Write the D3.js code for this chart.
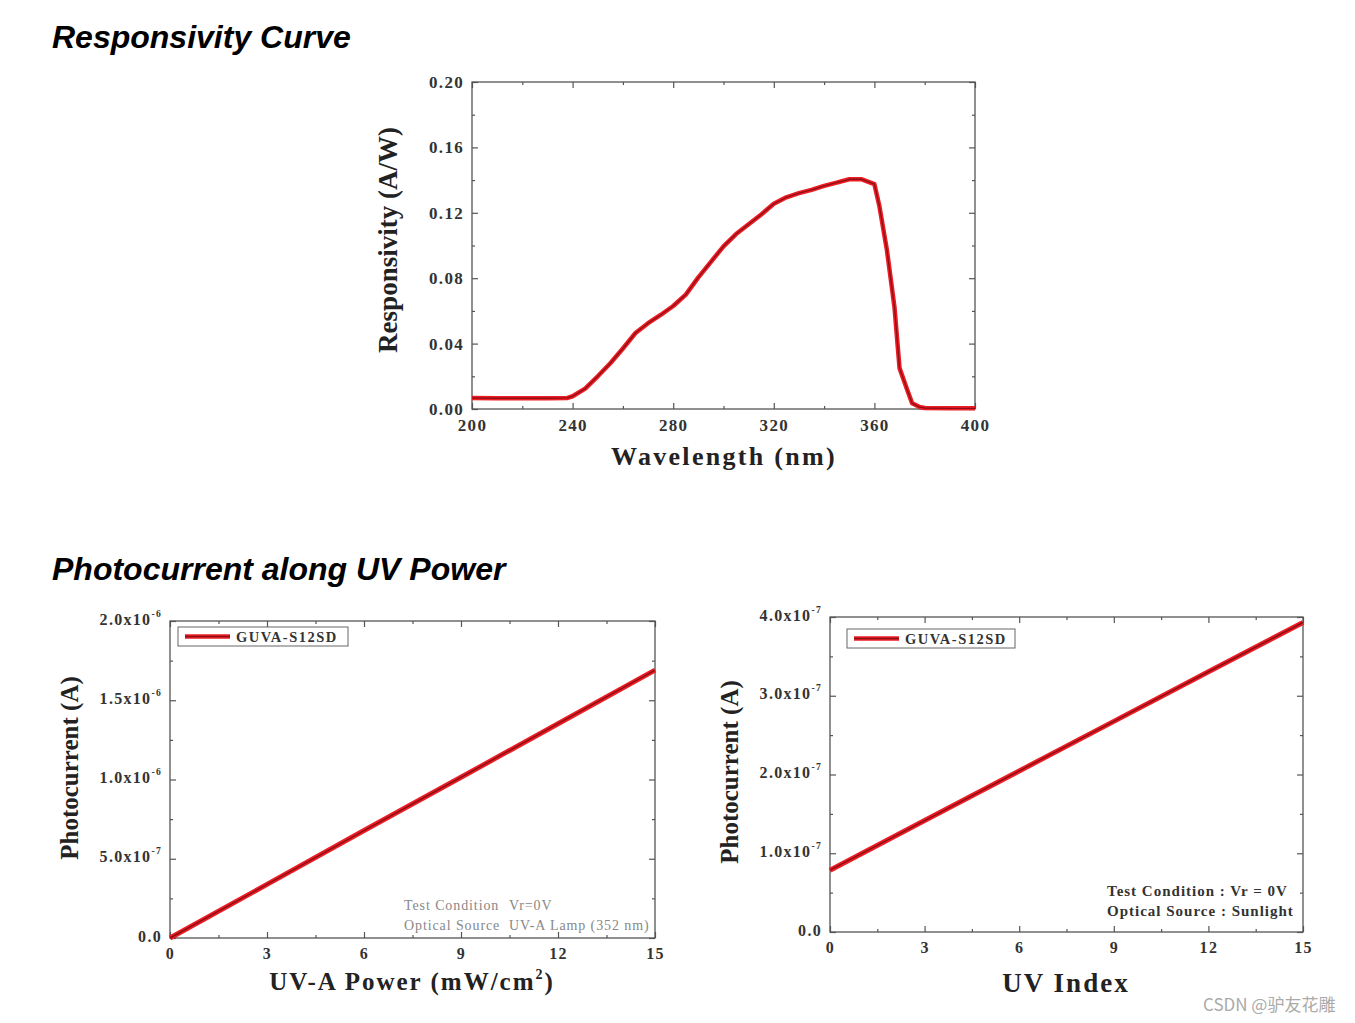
<!DOCTYPE html>
<html><head><meta charset="utf-8">
<script src="https://cdn.jsdelivr.net/npm/d3@7"></script>
<style>body{margin:0;background:#fff;} svg{display:block;}</style>
</head><body>
<svg id="c" width="1355" height="1023"></svg>
<script>
// ---- data ----
const wavelength = [200,210,220,230,238,240,245,250,255,260,265,270,275,280,285,290,295,300,305,310,315,320,325,330,335,340,345,350,355,360,362,365,368,370,373,375,378,380,390,400];
const responsivity = [0.0068,0.0066,0.0066,0.0066,0.0068,0.0078,0.0125,0.020,0.028,0.037,0.0465,0.0525,0.0575,0.063,0.070,0.0805,0.090,0.0995,0.107,0.113,0.119,0.1255,0.1295,0.132,0.134,0.1365,0.1385,0.1405,0.1405,0.1375,0.124,0.097,0.062,0.025,0.012,0.0035,0.0012,0.0006,0.0004,0.0004];
const respYTicks = [0,0.04,0.08,0.12,0.16,0.20];
const respXTicks = [200,240,280,320,360,400];

const uvaPower = [0,3,6,9,12,15];
const uvaCurrent = [0,3.38e-7,6.78e-7,1.014e-6,1.352e-6,1.69e-6];
const uvaYTicks = [0,5e-7,1e-6,1.5e-6,2e-6];
const uvaYLabels = [["0.0",""],["5.0x10","-7"],["1.0x10","-6"],["1.5x10","-6"],["2.0x10","-6"]];

const uvIndex = [0,3,6,9,12,15];
const uvCurrent = [0.785e-7,1.415e-7,2.045e-7,2.675e-7,3.305e-7,3.93e-7];
const uvYTicks = [0,1e-7,2e-7,3e-7,4e-7];
const uvYLabels = [["0.0",""],["1.0x10","-7"],["2.0x10","-7"],["3.0x10","-7"],["4.0x10","-7"]];
const idxXTicks = [0,3,6,9,12,15];

const svg = d3.select("#c");
const serif = "'Liberation Serif','Times New Roman',serif";
const frameColor = "#555";

// section titles
svg.append("text").attr("x",52).attr("y",48).attr("font-family","'Liberation Sans',Arial,sans-serif")
  .attr("font-weight","bold").attr("font-style","italic").attr("font-size",32).attr("fill","#000").text("Responsivity Curve");
svg.append("text").attr("x",52).attr("y",580).attr("font-family","'Liberation Sans',Arial,sans-serif")
  .attr("font-weight","bold").attr("font-style","italic").attr("font-size",32).attr("fill","#000").text("Photocurrent along UV Power");

function panel(o){
  const g = svg.append("g").attr("transform",`translate(${o.left},${o.top})`);
  const w = o.right-o.left, h = o.bottom-o.top;
  const x = d3.scaleLinear().domain(o.xDomain).range([0,w]);
  const y = d3.scaleLinear().domain(o.yDomain).range([h,0]);
  const style = sel => { sel.select(".domain").remove(); sel.selectAll("line").attr("stroke",frameColor).attr("stroke-width",1.2); };
  const txt = s => s.selectAll("text").attr("font-family",serif).attr("font-weight","bold").attr("font-size",o.tickFont)
      .attr("letter-spacing",o.tickLS).attr("fill","#333");
  // major ticks
  g.append("g").attr("transform",`translate(0,${h})`).call(d3.axisBottom(x).tickValues(o.xTicks).tickSize(-6).tickPadding(10).tickFormat(d=>d))
    .call(style).call(txt);
  g.append("g").call(d3.axisTop(x).tickValues(o.xTicks).tickSize(-6).tickFormat("")).call(style);
  const yl = g.append("g").call(d3.axisLeft(y).tickValues(o.yTicks).tickSize(-6).tickPadding(8).tickFormat((d,i)=>o.yFmt(d,i)))
    .call(style).call(txt);
  if(o.yLabels){
    yl.selectAll(".tick text").each(function(d,i){
      const t = d3.select(this); const lab = o.yLabels[i];
      t.text(null);
      t.append("tspan").text(lab[0]);
      if(lab[1]) t.append("tspan").attr("dy",-8).attr("font-size",o.tickFont*0.6).text(lab[1]);
    }).attr("dy","0.2em");
  }
  g.append("g").attr("transform",`translate(${w},0)`).call(d3.axisRight(y).tickValues(o.yTicks).tickSize(-6).tickFormat("")).call(style);
  // minor ticks
  g.append("g").attr("transform",`translate(0,${h})`).call(d3.axisBottom(x).tickValues(o.xMinor).tickSize(-3).tickFormat("")).call(style);
  g.append("g").call(d3.axisTop(x).tickValues(o.xMinor).tickSize(-3).tickFormat("")).call(style);
  g.append("g").call(d3.axisLeft(y).tickValues(o.yMinor).tickSize(-3).tickFormat("")).call(style);
  g.append("g").attr("transform",`translate(${w},0)`).call(d3.axisRight(y).tickValues(o.yMinor).tickSize(-3).tickFormat("")).call(style);
  // frame
  g.append("rect").attr("width",w).attr("height",h).attr("fill","none").attr("stroke",frameColor).attr("stroke-width",1.3);
  // line
  const line = d3.line().x(d=>x(d[0])).y(d=>y(d[1]));
  const pts = o.xs.map((v,i)=>[v,o.ys[i]]);
  const lg = g.append("g");
  lg.append("path").datum(pts).attr("d",line).attr("fill","none").attr("stroke","#ee1c24").attr("stroke-width",o.lw).attr("stroke-linejoin","round");
  lg.append("path").datum(pts).attr("d",line).attr("fill","none").attr("stroke","#8a1015").attr("stroke-width",o.lw*0.3).attr("stroke-linejoin","round");
  return {g,x,y,w,h};
}

// ---- top chart ----
panel({left:472,right:975,top:82,bottom:409,xDomain:[200,400],yDomain:[0,0.2],
  xTicks:respXTicks,xMinor:d3.range(220,400,40),yTicks:respYTicks,yMinor:d3.range(0.02,0.2,0.04),
  yFmt:d=>d.toFixed(2),tickFont:17,tickLS:1.3,xs:wavelength,ys:responsivity,lw:4.5});
svg.append("text").attr("transform","translate(397,240) rotate(-90)").attr("text-anchor","middle")
  .attr("font-family",serif).attr("font-weight","bold").attr("font-size",27).attr("fill","#222").text("Responsivity (A/W)");
svg.append("text").attr("x",724).attr("y",465).attr("text-anchor","middle").attr("letter-spacing",2.3)
  .attr("font-family",serif).attr("font-weight","bold").attr("font-size",26).attr("fill","#222").text("Wavelength (nm)");

// ---- bottom left ----
panel({left:170,right:655,top:621,bottom:938,xDomain:[0,15],yDomain:[0,2e-6],
  xTicks:uvaPower,xMinor:d3.range(1.5,15,3),yTicks:uvaYTicks,yMinor:d3.range(2.5e-7,2e-6,5e-7),
  yFmt:d=>"",yLabels:uvaYLabels,tickFont:16,tickLS:1.3,xs:uvaPower,ys:uvaCurrent,lw:5});
svg.append("text").attr("transform","translate(78,768) rotate(-90)").attr("text-anchor","middle")
  .attr("font-family",serif).attr("font-weight","bold").attr("font-size",25).attr("fill","#222").text("Photocurrent (A)");
{
  const t = svg.append("text").attr("x",412).attr("y",990).attr("text-anchor","middle").attr("letter-spacing",2)
    .attr("font-family",serif).attr("font-weight","bold").attr("font-size",25).attr("fill","#222");
  t.append("tspan").text("UV-A Power (mW/cm");
  t.append("tspan").attr("dy",-11).attr("font-size",14).text("2");
  t.append("tspan").attr("dy",11).text(")");
}
function legend(gx,gy,w){
  const lg = svg.append("g").attr("transform",`translate(${gx},${gy})`);
  lg.append("rect").attr("width",w).attr("height",19).attr("fill","#fff").attr("stroke","#666").attr("stroke-width",1);
  lg.append("line").attr("x1",7).attr("x2",52).attr("y1",9.5).attr("y2",9.5).attr("stroke","#ee1c24").attr("stroke-width",4.5);
  lg.append("line").attr("x1",7).attr("x2",52).attr("y1",9.5).attr("y2",9.5).attr("stroke","#8a1015").attr("stroke-width",1.4);
  lg.append("text").attr("x",58).attr("y",14.5).attr("font-family",serif).attr("font-weight","bold").attr("font-size",14.5)
    .attr("letter-spacing",1.5).attr("fill","#333").text("GUVA-S12SD");
}
legend(178,627,170);
const ann1 = svg.append("g").attr("font-family",serif).attr("font-size",14).attr("letter-spacing",0.9).attr("fill","#888");
ann1.append("text").attr("x",404).attr("y",910).text("Test Condition");
ann1.append("text").attr("x",509).attr("y",910).text("Vr=0V");
ann1.append("text").attr("x",404).attr("y",930).text("Optical Source");
ann1.append("text").attr("x",509).attr("y",930).text("UV-A Lamp (352 nm)");

// ---- bottom right ----
panel({left:830,right:1303,top:617,bottom:932,xDomain:[0,15],yDomain:[0,4e-7],
  xTicks:idxXTicks,xMinor:d3.range(1.5,15,3),yTicks:uvYTicks,yMinor:d3.range(0.5e-7,4e-7,1e-7),
  yFmt:d=>"",yLabels:uvYLabels,tickFont:16,tickLS:1.3,xs:uvIndex,ys:uvCurrent,lw:5});
svg.append("text").attr("transform","translate(738,772) rotate(-90)").attr("text-anchor","middle")
  .attr("font-family",serif).attr("font-weight","bold").attr("font-size",25).attr("fill","#222").text("Photocurrent (A)");
svg.append("text").attr("x",1066).attr("y",992).attr("text-anchor","middle").attr("letter-spacing",2)
  .attr("font-family",serif).attr("font-weight","bold").attr("font-size",27).attr("fill","#222").text("UV Index");
legend(847,629,168);
const ann2 = svg.append("g").attr("font-family",serif).attr("font-size",15).attr("letter-spacing",1).attr("font-weight","bold").attr("fill","#333");
ann2.append("text").attr("x",1107).attr("y",896).text("Test Condition : Vr = 0V");
ann2.append("text").attr("x",1107).attr("y",916).text("Optical Source : Sunlight");

// watermark
svg.append("text").attr("x",1203).attr("y",1011).attr("font-family","'Noto Sans CJK SC','Noto Sans',sans-serif")
  .attr("font-size",17).attr("fill","#aaa").text("CSDN @驴友花雕");
</script>
</body></html>
